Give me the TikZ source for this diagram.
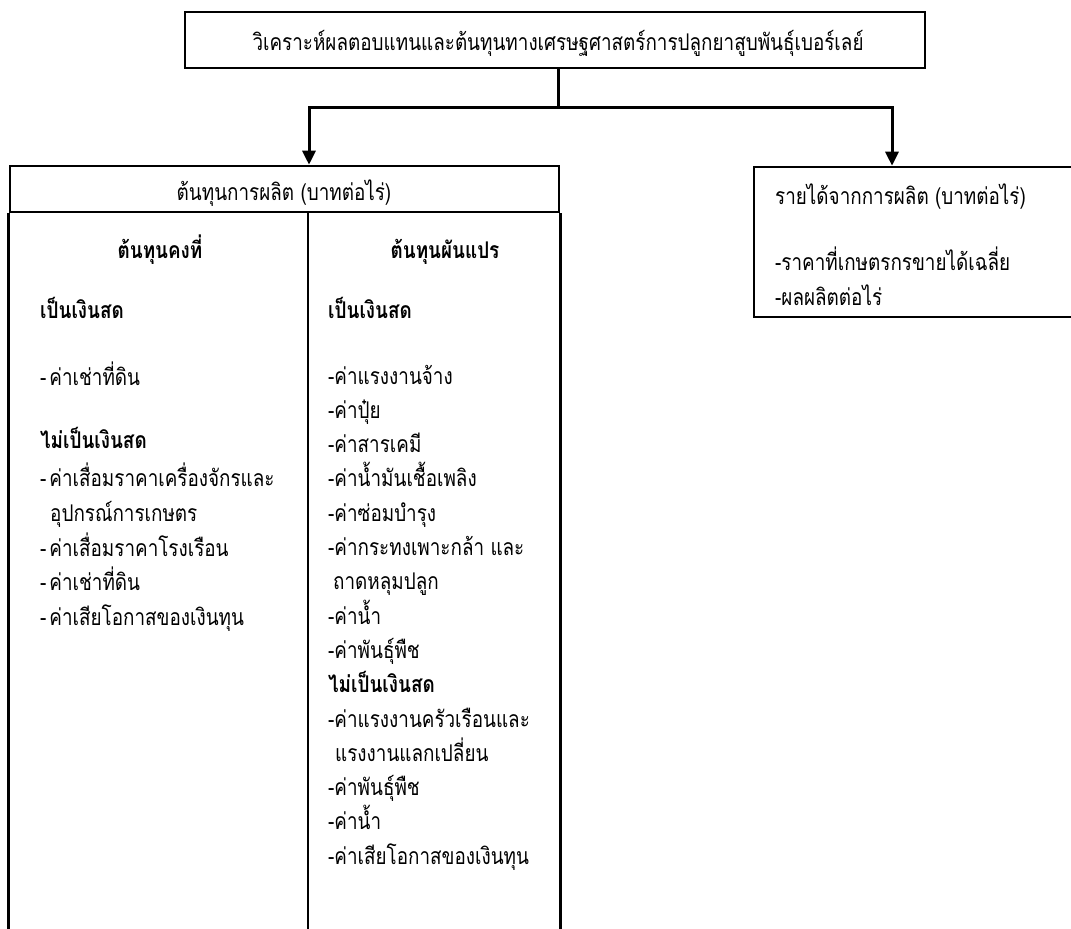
\documentclass[tikz,border=0pt]{standalone}
\usepackage{fontspec}
\setmainfont[Script=Thai,FakeStretch=0.82]{Loma}
\usetikzlibrary{arrows.meta}
\tikzset{
  boxline/.style={draw=black, line width=2.6pt},
  conn/.style={draw=black, line width=3pt},
  arr/.style={conn, -{Triangle[length=14pt,width=13pt]}},
  txt/.style={anchor=base west, inner sep=0pt, font=\fontsize{23}{25}\selectfont},
  btxt/.style={txt, font=\fontsize{23}{25}\selectfont\bfseries},
  ctxt/.style={anchor=base, inner sep=0pt, font=\fontsize{23}{25}\selectfont},
  cbtxt/.style={ctxt, font=\fontsize{23}{25}\selectfont\bfseries},
}
\begin{document}
\begin{tikzpicture}[x=1pt,y=-1pt]
\clip (0,0) rectangle (1071,929);
\fill[white] (0,0) rectangle (1071,929);
% top box
\node[boxline, rectangle, minimum width=740pt, minimum height=56pt, inner sep=0pt] (top) at (555,40) {};
\node[ctxt] (title) at (558,50) {วิเคราะห์ผลตอบแทนและต้นทุนทางเศรษฐศาสตร์การปลูกยาสูบพันธุ์เบอร์เลย์};
% cost header box
\node[boxline, rectangle, minimum width=549pt, minimum height=46pt, inner sep=0pt] (cost) at (284.5,189) {};
\node[ctxt] (costt) at (284,200) {ต้นทุนการผลิต (บาทต่อไร่)};
% income box
\node[boxline, rectangle, minimum width=340pt, minimum height=150pt, inner sep=0pt] (income) at (924,242) {};
% columns
\coordinate (bl) at (10,935);
\coordinate (bm) at (308,935);
\coordinate (br) at (559,935);
\draw[boxline] (cost.south west) -- (cost.south west |- bl);
\draw[boxline] (cost.south east) -- (cost.south east |- br);
\draw[boxline] (cost.south -| bm) -- (bm);
% connectors
\coordinate (j) at (558,107);
\draw[conn] (top.south -| j) -- (j);
\draw[arr] (j) -| (cost.north -| 309,0);
\draw[arr] (j) -| (income.north -| 892,0);
% income text
\node[txt] (i0) at (775,204) {รายได้จากการผลิต (บาทต่อไร่)};
\node[txt] (i1) at (775,270) {-ราคาที่เกษตรกรขายได้เฉลี่ย};
\node[txt] (i2) at (775,305) {-ผลผลิตต่อไร่};
% fixed cost column
\node[cbtxt] (fh) at (160,258) {ต้นทุนคงที่};
\node[btxt] (f1) at (40,318) {เป็นเงินสด};
\node[txt] (f2) at (40,385) {-\hspace{3pt}ค่าเช่าที่ดิน};
\node[btxt] (f3) at (40,448) {ไม่เป็นเงินสด};
\node[txt] (f4) at (40,486) {-\hspace{3pt}ค่าเสื่อมราคาเครื่องจักรและ};
\node[txt] (f5) at (50,521) {อุปกรณ์การเกษตร};
\node[txt] (f6) at (40,556) {-\hspace{3pt}ค่าเสื่อมราคาโรงเรือน};
\node[txt] (f7) at (40,590) {-\hspace{3pt}ค่าเช่าที่ดิน};
\node[txt] (f8) at (40,625) {-\hspace{3pt}ค่าเสียโอกาสของเงินทุน};
% variable cost column
\node[cbtxt] (vh) at (445,258) {ต้นทุนผันแปร};
\node[btxt] (v0) at (328,318) {เป็นเงินสด};
\node[txt] (v1) at (328,384) {-ค่าแรงงานจ้าง};
\node[txt] (v2) at (328,418.3) {-ค่าปุ๋ย};
\node[txt] (v3) at (328,452.6) {-ค่าสารเคมี};
\node[txt] (v4) at (328,486.9) {-ค่าน้ำมันเชื้อเพลิง};
\node[txt] (v5) at (328,521.2) {-ค่าซ่อมบำรุง};
\node[txt] (v6) at (328,555.5) {-ค่ากระทงเพาะกล้า และ};
\node[txt] (v7) at (333,589.8) {ถาดหลุมปลูก};
\node[txt] (v8) at (328,624.1) {-ค่าน้ำ};
\node[txt] (v9) at (328,658.4) {-ค่าพันธุ์พืช};
\node[btxt] (v10) at (328,692.7) {ไม่เป็นเงินสด};
\node[txt] (v11) at (328,727) {-ค่าแรงงานครัวเรือนและ};
\node[txt] (v12) at (335,761.3) {แรงงานแลกเปลี่ยน};
\node[txt] (v13) at (328,795.6) {-ค่าพันธุ์พืช};
\node[txt] (v14) at (328,829.9) {-ค่าน้ำ};
\node[txt] (v15) at (328,864.2) {-ค่าเสียโอกาสของเงินทุน};
\end{tikzpicture}
\end{document}
